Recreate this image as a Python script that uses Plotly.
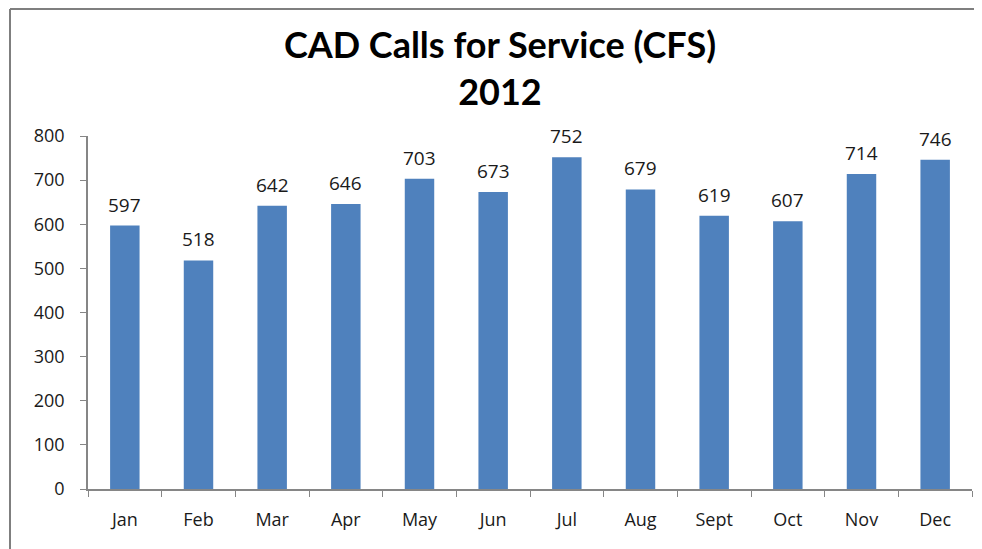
import plotly.graph_objects as go

months = ["Jan", "Feb", "Mar", "Apr", "May", "Jun", "Jul", "Aug", "Sept", "Oct", "Nov", "Dec"]
calls = [597, 518, 642, 646, 703, 673, 752, 679, 619, 607, 714, 746]
y_ticks = [0, 100, 200, 300, 400, 500, 600, 700, 800]

# page body has an 8px margin; figure sized to fit inside the window
OFF = 8
W, H = 982 - OFF, 549 - OFF
ml, mr, mt, mb = 88 - OFF, 10, 136 - OFF, 60
pw, ph = W - ml - mr, H - mt - mb

def px_to_paper_x(x):
    return (x - OFF - ml) / pw

def px_to_paper_y(y):
    return (H - mb - (y - OFF)) / ph

fig = go.Figure(go.Bar(
    x=months, y=calls,
    marker=dict(color="#4F81BD", line=dict(width=0)),
))

for m, v in zip(months, calls):
    fig.add_annotation(
        x=m, y=v, text=str(v), showarrow=False,
        yanchor="bottom", yshift=6,
        font=dict(family="Open Sans", size=19, color="#1a1a1a"),
    )

fig.update_layout(
    width=W, height=H,
    margin=dict(l=ml, r=mr, t=mt, b=mb, autoexpand=False),
    paper_bgcolor="white", plot_bgcolor="white",
    bargap=0.6,
    showlegend=False,
    title=dict(
        text="<b>CAD Calls for Service (CFS)<br>2012</b>",
        x=px_to_paper_x(500), xref="paper", xanchor="center",
        y=1 - 50 / H, yanchor="top",
        font=dict(family="Lato", size=36, color="black"),
    ),
    xaxis=dict(
        automargin=False,
        showline=True, linecolor="#868686", linewidth=1.5,
        ticks="outside", tickson="boundaries", ticklen=6, tickcolor="#868686",
        tickfont=dict(family="Open Sans", size=18, color="#1a1a1a"),
        ticklabelstandoff=14,
        showgrid=False,
    ),
    yaxis=dict(
        automargin=False,
        range=[0, 800], tickvals=y_ticks,
        showline=True, linecolor="#868686", linewidth=1.5,
        ticks="outside", ticklen=6, tickcolor="#868686",
        tickfont=dict(family="Open Sans", size=18, color="#1a1a1a"),
        ticklabelstandoff=12,
        showgrid=False, zeroline=False,
    ),
    shapes=[
        dict(type="line", xref="paper", yref="paper",
             x0=px_to_paper_x(10), x1=px_to_paper_x(982), y0=px_to_paper_y(9), y1=px_to_paper_y(9),
             line=dict(color="#7f7f7f", width=2)),
        dict(type="line", xref="paper", yref="paper",
             x0=px_to_paper_x(10), x1=px_to_paper_x(10), y0=px_to_paper_y(9), y1=px_to_paper_y(549),
             line=dict(color="#7f7f7f", width=2)),
    ],
)

fig.write_html("out.html")
